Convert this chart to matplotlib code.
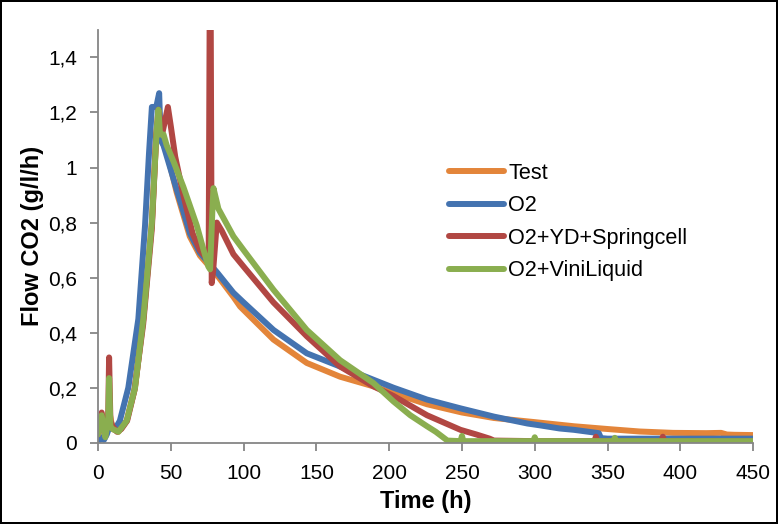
import matplotlib
matplotlib.use("Agg")
import matplotlib.pyplot as plt
from matplotlib.ticker import FuncFormatter, MultipleLocator

# --- data (time in h, flow CO2 in g/l/h) ---
t_test = [0, 2.5, 5, 7.5, 10, 14, 19.7, 25.4, 31.1, 37, 40, 42, 44, 48, 54, 63,
          70, 81.6, 93, 97.6, 120.5, 143.4, 166.3, 189.2, 203, 226, 250, 272,
          300, 327, 350, 372, 395, 418, 428, 432, 437, 450]
v_test = [0.02, 0.09, 0.03, 0.12, 0.05, 0.04, 0.08, 0.20, 0.45, 0.80, 1.12, 1.20,
          1.10, 1.04, 0.91, 0.75, 0.68, 0.61, 0.53, 0.495, 0.375, 0.29, 0.24,
          0.205, 0.18, 0.14, 0.11, 0.09, 0.075, 0.06, 0.05, 0.041, 0.036, 0.035,
          0.036, 0.03, 0.029, 0.028]

t_o2 = [0, 2, 4, 6, 8, 11.7, 15, 20.8, 27.7, 32.3, 35, 37, 40, 42, 43, 45, 54,
        63.2, 70, 81.6, 93, 100, 120.5, 143.4, 166.3, 189.2, 203, 226, 249, 272,
        295, 304, 317, 327, 344, 345.5, 350, 400, 450]
v_o2 = [0.0, 0.02, 0.01, 0.03, 0.06, 0.05, 0.08, 0.20, 0.45, 0.79, 1.05, 1.22,
        1.22, 1.27, 1.10, 1.08, 0.92, 0.76, 0.69, 0.62, 0.545, 0.51, 0.41, 0.325,
        0.277, 0.229, 0.20, 0.157, 0.125, 0.095, 0.07, 0.063, 0.052, 0.047,
        0.035, 0.017, 0.015, 0.015, 0.015]

t_yd = [0, 2.5, 5, 7, 7.6, 8.5, 10, 13, 16, 20, 25, 31, 37, 40, 41.5, 44, 48, 50,
        53, 58.6, 65, 70, 76, 76.8, 77.3, 78.1, 79, 81.6, 85, 93, 100, 120.5,
        143.4, 166.3, 189.2, 203, 226, 249, 260, 269, 272, 300, 341, 342, 343,
        387, 388, 389, 450]
v_yd = [0.03, 0.11, 0.03, 0.10, 0.31, 0.08, 0.06, 0.04, 0.05, 0.08, 0.19, 0.43,
        0.78, 1.12, 1.21, 1.12, 1.22, 1.15, 1.04, 0.90, 0.76, 0.70, 0.66, 1.70,
        1.70, 0.58, 0.62, 0.80, 0.77, 0.685, 0.64, 0.51, 0.387, 0.277, 0.205,
        0.17, 0.10, 0.047, 0.03, 0.015, 0.008, 0.006, 0.006, 0.022, 0.006,
        0.006, 0.022, 0.006, 0.005]

t_vl = [0, 2.5, 5, 7, 7.6, 8.5, 10, 14, 19.7, 25.4, 31.1, 37, 40.3, 41.5, 42.6,
        45, 47.2, 52, 58.6, 67.8, 72, 75.8, 77, 78.6, 79.3, 82.7, 93, 100, 120.5,
        143.4, 166.3, 189.2, 203, 214.5, 226, 232, 237, 240, 249, 250, 251, 299,
        300, 301, 354, 355, 356, 450]
v_vl = [0.03, 0.10, 0.02, 0.08, 0.235, 0.06, 0.05, 0.04, 0.08, 0.20, 0.45, 0.80,
        1.14, 1.21, 1.12, 1.12, 1.08, 1.02, 0.93, 0.79, 0.71, 0.64, 0.63, 0.85,
        0.925, 0.85, 0.75, 0.70, 0.556, 0.41, 0.30, 0.217, 0.15, 0.10, 0.06,
        0.04, 0.02, 0.008, 0.006, 0.025, 0.006, 0.006, 0.02, 0.006, 0.006,
        0.018, 0.006, 0.006]

series = [
    ("Test", t_test, v_test, "#E3853A"),
    ("O2", t_o2, v_o2, "#4473B0"),
    ("O2+YD+Springcell", t_yd, v_yd, "#B14743"),
    ("O2+ViniLiquid", t_vl, v_vl, "#8AAE4F"),
]

plt.rcParams["font.family"] = ["Liberation Sans", "DejaVu Sans"]

fig = plt.figure(figsize=(7.78, 5.24), dpi=100)
fig.patch.set_edgecolor("black")
fig.patch.set_linewidth(1.5)
ax = fig.add_axes([0.126, 0.155, 0.842, 0.788])

for name, t, v, col in series:
    ax.plot(t, v, color=col, lw=4.3, label=name,
            solid_capstyle="round", solid_joinstyle="round")

ax.set_xlim(0, 450)
ax.set_ylim(0, 1.5)
ax.xaxis.set_major_locator(MultipleLocator(50))
ax.yaxis.set_major_locator(MultipleLocator(0.2))
ax.yaxis.set_major_formatter(FuncFormatter(lambda v, p: f"{v:g}".replace(".", ",")))

for side in ("top", "right"):
    ax.spines[side].set_visible(False)
for side in ("left", "bottom"):
    ax.spines[side].set_color("#868686")
    ax.spines[side].set_linewidth(1.3)
ax.tick_params(direction="out", length=6, width=1.3, color="#868686",
               labelsize=15, pad=9)

ax.set_xlabel("Time (h)", fontsize=17, fontweight="bold", labelpad=5)
ax.set_ylabel("Flow CO2 (g/l/h)", fontsize=17, fontweight="bold", labelpad=3)

ax.legend(loc="upper left", bbox_to_anchor=(0.577, 0.689),
          bbox_transform=fig.transFigure, frameon=False, fontsize=15.6,
          handlelength=2.55, handletextpad=0.19, labelspacing=0.53,
          borderpad=0, borderaxespad=0)

fig.savefig("out.png", dpi=100)
